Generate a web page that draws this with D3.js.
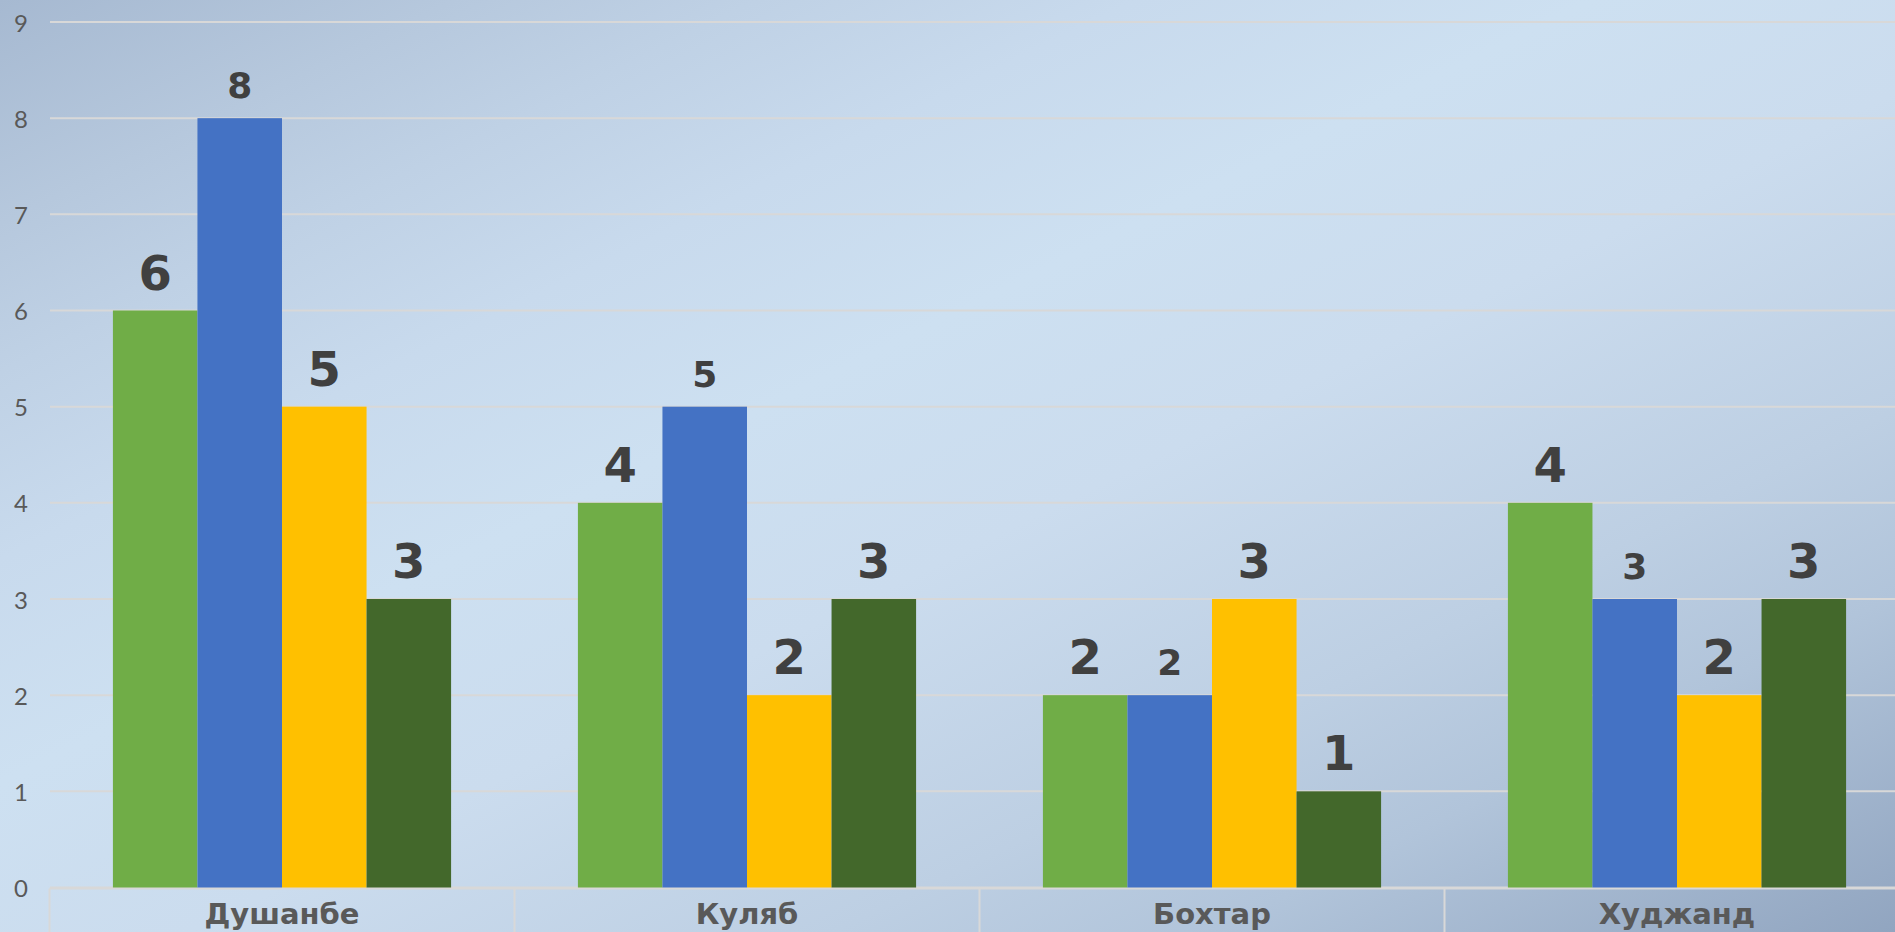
<!DOCTYPE html>
<html>
<head>
<meta charset="utf-8">
<script src="https://cdn.jsdelivr.net/npm/d3@7/dist/d3.min.js"></script>
<style>
  html, body { margin: 0; padding: 0; overflow: hidden; background: #c6d8ea; }
  svg { display: block; }
</style>
</head>
<body>
<svg id="chart" width="1895" height="932"></svg>
<script>
// Cities on the category axis
const categories = ["Душанбе", "Куляб", "Бохтар", "Худжанд"];

// Four series, one value per city
const seriesA = [6, 4, 2, 4];
const seriesB = [8, 5, 2, 3];
const seriesC = [5, 2, 3, 2];
const seriesD = [3, 3, 1, 3];

// Value axis ticks
const yTicks = [0, 1, 2, 3, 4, 5, 6, 7, 8, 9];

const seriesList = [seriesA, seriesB, seriesC, seriesD];
const seriesKeys = ["a", "b", "c", "d"];
const colors = ["#70AD47", "#4472C4", "#FFC000", "#43682B"];
const labelSizes = [48, 36, 48, 48];
const labelGap = [21, 20, 21, 21];

const W = 1895, H = 932;
const svg = d3.select("#chart");

// Diagonal background gradient: darker corners top-left and bottom-right
const defs = svg.append("defs");
const grad = defs.append("linearGradient")
  .attr("id", "bg").attr("x1", 0).attr("y1", 0).attr("x2", 1).attr("y2", 1);
[[0, "#a6b9d1"], [0.12, "#b6c8dd"], [0.2, "#bfd1e5"], [0.3, "#c8daed"],
 [0.42, "#cde0f1"], [0.55, "#cbdcee"], [0.72, "#bdcfe3"], [0.82, "#b1c4da"],
 [1, "#91a5c0"]].forEach(([o, c]) =>
  grad.append("stop").attr("offset", o).attr("stop-color", c));
svg.append("rect").attr("width", W).attr("height", H).attr("fill", "url(#bg)");

const left = 49.5, bandW = 465;
const x0 = d3.scaleBand().domain(categories)
  .range([left, left + bandW * categories.length]).padding(0);
const x1 = d3.scaleBand().domain(seriesKeys)
  .range([0, x0.bandwidth()]).paddingInner(0).paddingOuter(0.75);
const y = d3.scaleLinear().domain([0, 9]).range([887.5, 22]);

// Horizontal gridlines
svg.append("g").selectAll("line").data(yTicks).join("line")
  .attr("x1", 50).attr("x2", W)
  .attr("y1", d => y(d)).attr("y2", d => y(d))
  .attr("stroke", "#d8d8d8").attr("stroke-width", 2);

// Value axis labels
svg.append("g").selectAll("text").data(yTicks).join("text")
  .attr("x", 28).attr("y", d => y(d))
  .attr("text-anchor", "end").attr("dominant-baseline", "central")
  .attr("font-family", "Lato, 'Open Sans', 'DejaVu Sans', sans-serif")
  .attr("font-weight", 400).attr("font-size", 24)
  .attr("fill", "#595959")
  .text(d => d);

// Category axis frame
const axisY = y(0) + 1;
const ax = svg.append("g");
ax.append("line").attr("x1", left).attr("x2", W)
  .attr("y1", axisY).attr("y2", axisY)
  .attr("stroke", "#d8d8d8").attr("stroke-width", 2);
const edges = categories.map(c => x0(c)).concat([x0.range()[1]]);
ax.selectAll("line.div").data(edges).join("line").attr("class", "div")
  .attr("x1", d => d).attr("x2", d => d)
  .attr("y1", axisY).attr("y2", H)
  .attr("stroke", "#d8d8d8").attr("stroke-width", 2);
ax.selectAll("text").data(categories).join("text")
  .attr("x", d => x0(d) + x0.bandwidth() / 2).attr("y", 924)
  .attr("text-anchor", "middle")
  .attr("font-family", "'DejaVu Sans', 'Noto Sans', sans-serif")
  .attr("font-weight", "bold").attr("font-size", 29)
  .attr("fill", "#595959")
  .text(d => d);

// Bars and value labels
const rows = [];
categories.forEach((c, i) => seriesList.forEach((s, j) =>
  rows.push({ cat: c, key: seriesKeys[j], j, v: s[i] })));

const groups = svg.append("g");
groups.selectAll("rect").data(rows).join("rect")
  .attr("x", d => x0(d.cat) + x1(d.key))
  .attr("y", d => y(d.v))
  .attr("width", x1.bandwidth())
  .attr("height", d => y(0) - y(d.v))
  .attr("fill", d => colors[d.j]);

groups.selectAll("text").data(rows).join("text")
  .attr("x", d => x0(d.cat) + x1(d.key) + x1.bandwidth() / 2)
  .attr("y", d => y(d.v) - labelGap[d.j])
  .attr("text-anchor", "middle")
  .attr("font-family", "'DejaVu Sans', 'Noto Sans', sans-serif")
  .attr("font-weight", "bold")
  .attr("font-size", d => labelSizes[d.j])
  .attr("fill", "#404040")
  .text(d => d.v);
</script>
</body>
</html>
